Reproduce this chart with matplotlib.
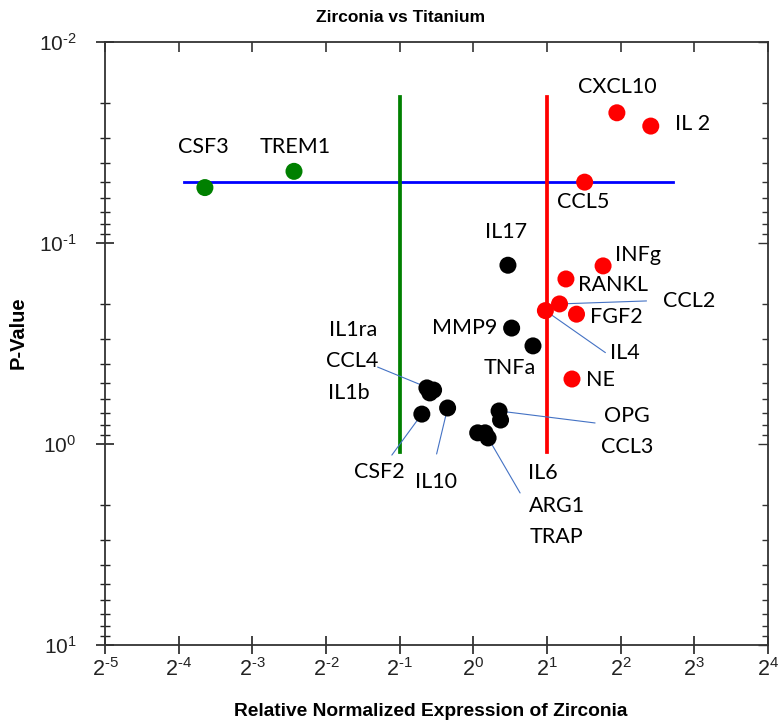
import matplotlib
matplotlib.use("Agg")
import matplotlib.pyplot as plt
import numpy as np

# ---------------- data ----------------
genes = ["CSF3", "TREM1", "CXCL10", "IL 2", "CCL5", "INFg", "RANKL", "CCL2", "IL4",
         "FGF2", "NE", "IL17", "MMP9", "TNFa", "IL1ra", "CCL4", "IL1b", "CSF2",
         "IL10", "OPG", "CCL3", "IL6", "ARG1", "TRAP"]
fold_change = [0.080, 0.185, 3.86, 5.31, 2.85, 3.39, 2.39, 2.25, 1.97,
               2.64, 2.53, 1.385, 1.434, 1.753, 0.646, 0.688, 0.664, 0.616,
               0.785, 1.274, 1.292, 1.042, 1.117, 1.149]
p_value = [0.053, 0.044, 0.0225, 0.0262, 0.0498, 0.130, 0.151, 0.201, 0.217,
           0.226, 0.475, 0.129, 0.265, 0.325, 0.526, 0.539, 0.557, 0.71,
           0.662, 0.685, 0.76, 0.88, 0.88, 0.933]
group = ["down", "down", "up", "up", "up", "up", "up", "up", "up",
         "up", "up", "ns", "ns", "ns", "ns", "ns", "ns", "ns",
         "ns", "ns", "ns", "ns", "ns", "ns"]

p_threshold = 0.05
fc_low = 0.5
fc_high = 2.0
hline_x = [0.066, 6.55]
vline_p = [0.0188, 1.1]

x_exps = list(range(-5, 5))
y_exps = list(range(-2, 2))
x_ticks = [2.0 ** k for k in x_exps]
y_ticks = [10.0 ** k for k in y_exps]

# ---------------- layout / style ----------------
colors = {"down": "#008000", "up": "#FF0000", "ns": "#000000"}
# label offsets in pixels (dx, dy) from the point
label_off = {
    "CSF3": (-2, 41), "TREM1": (1, 24), "CXCL10": (0, 26), "IL 2": (42, 2),
    "CCL5": (-1, -20), "INFg": (35, 11), "RANKL": (47, -6), "CCL2": (130, 3),
    "IL4": (79, -42), "FGF2": (40, -3), "NE": (29, -1), "IL17": (-2, 33),
    "MMP9": (-47, 0), "TNFa": (-23, -22), "IL1ra": (-74, 58), "CCL4": (-81, 29),
    "IL1b": (-81, 0), "CSF2": (-43, -58), "IL10": (-12, -74), "OPG": (128, -5),
    "CCL3": (127, -27), "IL6": (65, -40), "ARG1": (72, -73), "TRAP": (68, -99),
}
# leader lines: gene -> end offset in pixels
leader_off = {
    "CCL2": (87, 3), "IL4": (60, -42), "CCL4": (-56, 23), "CSF2": (-30, -41),
    "IL10": (-11, -46), "OPG": (96, -12), "TRAP": (32, -55),
}

plt.rcParams["font.family"] = ["Liberation Sans", "DejaVu Sans"]
plt.rcParams["mathtext.fontset"] = "custom"
plt.rcParams["mathtext.rm"] = "Liberation Sans"
plt.rcParams["mathtext.it"] = "Liberation Sans:italic"
plt.rcParams["mathtext.bf"] = "Liberation Sans:bold"

fig = plt.figure(figsize=(7.78, 7.2), dpi=100)
ax = fig.add_axes([105 / 778, 1 - 645 / 720, (768 - 105) / 778, (645 - 42) / 720])

ax.set_xscale("log", base=2)
ax.set_yscale("log")
ax.set_xlim(2.0 ** -5, 2.0 ** 4)
ax.set_ylim(10, 0.01)

# threshold lines
ax.plot(hline_x, [p_threshold, p_threshold], color="#0000FF", lw=2.0, zorder=2)
ax.plot([fc_low, fc_low], vline_p, color="#008000", lw=2.7, zorder=2)
ax.plot([fc_high, fc_high], vline_p, color="#FF0000", lw=2.7, zorder=2)

# leader lines
for g, (dx, dy) in leader_off.items():
    i = genes.index(g)
    ax.annotate("", xy=(fold_change[i], p_value[i]), xytext=(dx, dy),
                textcoords="offset pixels",
                arrowprops=dict(arrowstyle="-", color="#4472C4", lw=0.8,
                                shrinkA=0, shrinkB=0), zorder=3)

# points
ax.scatter(fold_change, p_value, s=150, c=[colors[g] for g in group],
           edgecolors="none", zorder=4)

# labels
for i, g in enumerate(genes):
    dx, dy = label_off[g]
    ax.annotate(g, xy=(fold_change[i], p_value[i]), xytext=(dx, dy),
                textcoords="offset pixels", ha="center", va="center",
                fontsize=15.5, family=["Lato", "DejaVu Sans"], color="black",
                zorder=5)

def sup_label(base, e):
    s = str(e).replace("-", r"\text{-}")
    return r"$%s^{%s}$" % (base, s)

# ticks
ax.set_xticks(x_ticks)
ax.set_xticklabels([sup_label(2, k) for k in x_exps])
ax.set_yticks(y_ticks)
ax.set_yticklabels([sup_label(10, k) for k in y_exps])
ax.yaxis.set_minor_locator(matplotlib.ticker.LogLocator(base=10, subs=np.arange(2, 10)))
ax.yaxis.set_minor_formatter(matplotlib.ticker.NullFormatter())
ax.xaxis.set_minor_locator(matplotlib.ticker.NullLocator())

ax.tick_params(axis="x", which="major", direction="inout", length=13, width=1.2,
               labelsize=15.5, pad=3, top=False, colors="#222222")
ax.tick_params(axis="y", which="major", direction="inout", length=13, width=1.2,
               labelsize=15, pad=14, right=False, colors="#222222")
ax.tick_params(axis="y", which="minor", direction="inout", length=7, width=1.0,
               right=False, color="#222222")

for sp in ax.spines.values():
    sp.set_linewidth(1.3)
    sp.set_color("#333333")

# top ticks (inward)
axt = ax.twiny()
axt.set_xscale("log", base=2)
axt.set_xlim(ax.get_xlim())
axt.set_xticks(x_ticks)
axt.xaxis.set_minor_locator(matplotlib.ticker.NullLocator())
axt.tick_params(axis="x", direction="in", length=7, width=1.2, labeltop=False,
                color="#333333")
# right ticks (inward)
axr = ax.twinx()
axr.set_yscale("log")
axr.set_ylim(ax.get_ylim())
axr.set_yticks(y_ticks)
axr.yaxis.set_minor_locator(matplotlib.ticker.LogLocator(base=10, subs=np.arange(2, 10)))
axr.yaxis.set_minor_formatter(matplotlib.ticker.NullFormatter())
axr.tick_params(axis="y", which="major", direction="in", length=7, width=1.0,
                labelright=False, color="#333333")
axr.tick_params(axis="y", which="minor", direction="in", length=4, width=1.0,
                labelright=False, color="#333333")
for a in (axt, axr):
    for sp in a.spines.values():
        sp.set_visible(False)

fig.text(401 / 778, 1 - 18 / 720, "Zirconia vs Titanium", fontsize=12.5,
         fontweight="bold", ha="center", va="center")
fig.text(431 / 778, 1 - 712 / 720, "Relative Normalized Expression of Zirconia",
         fontsize=13.8, fontweight="bold", ha="center", va="center")
fig.text(18 / 778, 1 - 333 / 720, "P-Value", fontsize=14.5, fontweight="bold",
         ha="center", va="center", rotation=90)

fig.savefig("out.png", dpi=100)
